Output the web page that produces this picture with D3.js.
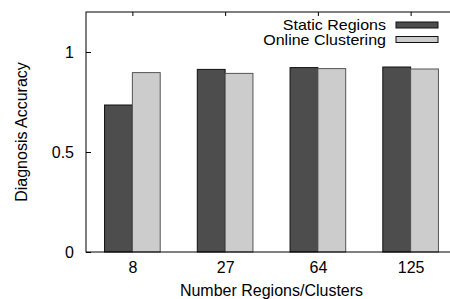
<!DOCTYPE html>
<html>
  <head>
    <meta charset="utf-8">
    <title>Diagnosis Accuracy</title>
    <script src="https://d3js.org/d3.v7.min.js"></script>
    <style>
      body { margin: 0; background: #fff; }
      text { font-family: "Liberation Sans", Arial, sans-serif; font-size: 16px; fill: #000; }
      .legend text { font-size: 14.5px; }
    </style>
  </head>
  <body>
    <div id="chart"></div>
    <script>
      // data
      var categories = ["8", "27", "64", "125"];
      var seriesNames = ["Static Regions", "Online Clustering"];
      var staticRegions = [0.735, 0.913, 0.922, 0.925];
      var onlineClustering = [0.897, 0.893, 0.917, 0.915];
      var yTicks = [0, 0.5, 1];
      var yTickLabels = ["0", "0.5", "1"];

      var series = [staticRegions, onlineClustering];
      var fills = ["#4d4d4d", "#cccccc"];
      var strokes = ["#111", "#555"];

      var W = 450, H = 299;
      var margin = {top: 12, left: 86, bottom: 47, right: -7};
      var width = W - margin.left - margin.right,
          height = H - margin.top - margin.bottom;

      var svg = d3.select("#chart").append("svg")
          .attr("width", W).attr("height", H);
      var g = svg.append("g")
          .attr("transform", "translate(" + margin.left + "," + margin.top + ")");

      // x is the category index, like gnuplot histograms (-0.5 .. n-0.5)
      var x = d3.scaleLinear().domain([-0.5, categories.length - 0.5]).range([0, width]);
      var y = d3.scaleLinear().domain([0, 1.2]).range([height, 0]);
      var barW = x(0.3) - x(0);

      // bars
      series.forEach(function(vals, s) {
        g.append("g").selectAll("rect")
          .data(vals)
          .enter().append("rect")
            .attr("x", function(d, i) { return x(i) + (s - 1) * barW; })
            .attr("y", function(d) { return y(d); })
            .attr("width", barW)
            .attr("height", function(d) { return y(0) - y(d); })
            .attr("fill", fills[s])
            .attr("stroke", strokes[s])
            .attr("stroke-width", 1);
      });

      // frame
      g.append("rect")
        .attr("x", 0).attr("y", 0)
        .attr("width", width).attr("height", height)
        .attr("fill", "none").attr("stroke", "#000").attr("stroke-width", 1);

      // left axis, ticks pointing inwards
      var yAxis = g.append("g")
        .call(d3.axisLeft(y).tickValues(yTicks).tickSizeInner(-5).tickSizeOuter(0)
          .tickPadding(12).tickFormat(function(d, i) { return yTickLabels[i]; }));
      yAxis.select(".domain").remove();

      // bottom labels
      var xAxis = g.append("g")
        .attr("transform", "translate(0," + height + ")")
        .call(d3.axisBottom(x).tickValues(d3.range(categories.length)).tickSizeInner(0).tickSizeOuter(0)
          .tickPadding(10).tickFormat(function(d) { return categories[d]; }));
      xAxis.select(".domain").remove();

      // top mirror ticks
      g.append("g")
        .call(d3.axisTop(x).tickValues(d3.range(categories.length)).tickSizeInner(-4).tickSizeOuter(0).tickFormat(""))
        .select(".domain").remove();

      svg.selectAll(".tick line").attr("stroke", "#000");
      svg.selectAll("g[font-size]").attr("font-size", null).attr("font-family", null);

      // axis titles
      svg.append("text")
        .attr("transform", "translate(27," + (margin.top + height / 2) + ") rotate(-90)")
        .attr("text-anchor", "middle")
        .text("Diagnosis Accuracy");
      svg.append("text")
        .attr("x", margin.left + width / 2)
        .attr("y", 296)
        .attr("text-anchor", "middle")
        .text("Number Regions/Clusters");

      // legend, top right inside the frame
      var legend = svg.append("g").attr("class", "legend").selectAll("g")
        .data(seriesNames)
        .enter().append("g")
          .attr("transform", function(d, i) { return "translate(0," + (25 + i * 14.5) + ")"; });
      legend.append("text")
        .attr("x", 386).attr("y", 0).attr("dy", "0.35em")
        .attr("text-anchor", "end")
        .text(function(d) { return d; })
        .each(function() {
          // gnuplot's legend font is a bit wider than the glyph height suggests
          var len = this.getComputedTextLength();
          d3.select(this).attr("textLength", len * 16 / 14.5).attr("lengthAdjust", "spacingAndGlyphs");
        });
      legend.append("rect")
        .attr("x", 396).attr("y", -3)
        .attr("width", 42).attr("height", 6)
        .attr("fill", function(d, i) { return fills[i]; })
        .attr("stroke", "#111");
    </script>
  </body>
</html>
